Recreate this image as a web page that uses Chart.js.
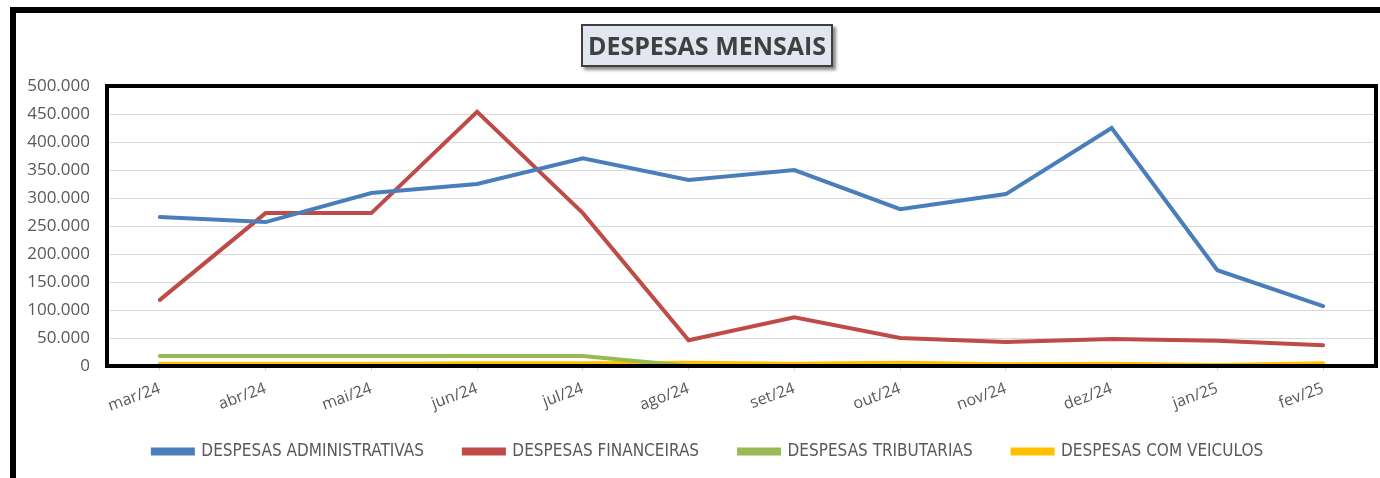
<!DOCTYPE html>
<html>
<head>
<meta charset="utf-8">
<script src="https://cdn.jsdelivr.net/npm/chart.js@4"></script>
<style>
  body { margin: 0; background: #fff; }
  #wrap { position: relative; width: 1380px; height: 478px; overflow: hidden; }
  #frame { position: absolute; left: 10px; top: 7px; width: 1420px; height: 520px; border: 6px solid #000; box-sizing: border-box; }
  #title {
    position: absolute; left: 581px; top: 24px; width: 252px; height: 43px;
    background: #e1e6f1; border: 2px solid #3f3f3f; box-shadow: 3px 3px 3px #8a8a8a;
    font: bold 25px "Open Sans", sans-serif; color: #404040;
    text-align: center; line-height: 39px; box-sizing: border-box;
  }
  canvas { position: absolute; left: 0; top: 0; }
</style>
</head>
<body>
<div id="wrap">
  <div id="frame"></div>
  <canvas id="chart" width="1380" height="478"></canvas>
  <div id="title">DESPESAS MENSAIS</div>
</div>
<script>
const months = ['mar/24', 'abr/24', 'mai/24', 'jun/24', 'jul/24', 'ago/24', 'set/24', 'out/24', 'nov/24', 'dez/24', 'jan/25', 'fev/25'];
const administrativas = [266000, 257000, 309000, 325000, 371000, 332000, 350000, 280000, 307000, 425000, 171000, 107000];
const financeiras = [118000, 273000, 273000, 454000, 273000, 46000, 87000, 50000, 43000, 48000, 45000, 37000];
const tributarias = [18000, 18000, 18000, 18000, 18000, 0, 0, 0, 0, 0, 0, 0];
const veiculos = [4000, 4000, 4000, 5000, 5000, 6000, 4000, 6000, 3000, 4000, 2000, 5000];

const yMax = 500000;
const yStep = 50000;

function fmt(v) {
    return String(v).replace(/\B(?=(\d{3})+(?!\d))/g, '.');
}

// black box around the plot area
const plotFrame = {
    id: 'plotFrame',
    afterDatasetsDraw(chart) {
        const a = chart.chartArea;
        const ctx = chart.ctx;
        ctx.save();
        ctx.strokeStyle = '#000';
        ctx.lineWidth = 4;
        ctx.strokeRect(a.left, a.top, a.right - a.left, a.bottom - a.top);
        ctx.restore();
    }
};

// the legend's padding is wide for the gaps between items, so pull it up (and a little right)
const legendShift = {
    id: 'legendShift',
    afterLayout(chart) {
        const lg = chart.legend;
        if (!lg) return;
        lg.top -= 15;
        lg.bottom -= 15;
        lg.left += 20;
        lg.right += 20;
    }
};

function line(label, data, color) {
    return {
        label: label,
        data: data,
        borderColor: color,
        backgroundColor: color,
        borderWidth: 4,
        pointRadius: 0,
        tension: 0,
        borderCapStyle: 'round'
    };
}

new Chart(document.getElementById('chart'), {
    type: 'line',
    data: {
        labels: months,
        datasets: [
            line('DESPESAS ADMINISTRATIVAS', administrativas, '#4a7ebb'),
            line('DESPESAS FINANCEIRAS', financeiras, '#be4b48'),
            line('DESPESAS TRIBUTARIAS', tributarias, '#98b954'),
            line('DESPESAS COM VEICULOS', veiculos, '#ffc000')
        ]
    },
    options: {
        responsive: false,
        animation: false,
        layout: { padding: { left: 0, top: 86, right: 4, bottom: 0 } },
        plugins: {
            title: { display: false },
            tooltip: { enabled: false },
            legend: {
                position: 'bottom',
                maxHeight: 60,
                labels: {
                    boxWidth: 40,
                    boxHeight: 4,
                    padding: 40,
                    color: '#595959',
                    font: { family: '"Liberation Sans Narrow", "DejaVu Sans Condensed", sans-serif', size: 17 }
                }
            }
        },
        scales: {
            x: {
                offset: true,
                grid: { display: true, drawOnChartArea: false, drawTicks: true, tickLength: 5, color: '#d9d9d9' },
                border: { display: false },
                ticks: {
                    minRotation: 20,
                    maxRotation: 20,
                    padding: 8,
                    color: '#595959',
                    font: { family: '"Open Sans", sans-serif', size: 16 }
                },
                afterFit(scale) { scale.height = 52; }
            },
            y: {
                min: 0,
                max: yMax,
                grid: { color: '#d9d9d9', drawTicks: false },
                border: { display: false },
                ticks: {
                    stepSize: yStep,
                    padding: 17,
                    color: '#595959',
                    font: { family: '"Open Sans", sans-serif', size: 17 },
                    callback: v => fmt(v)
                },
                afterFit(scale) { scale.width = 107; }
            }
        }
    },
    plugins: [plotFrame, legendShift]
});
</script>
</body>
</html>
